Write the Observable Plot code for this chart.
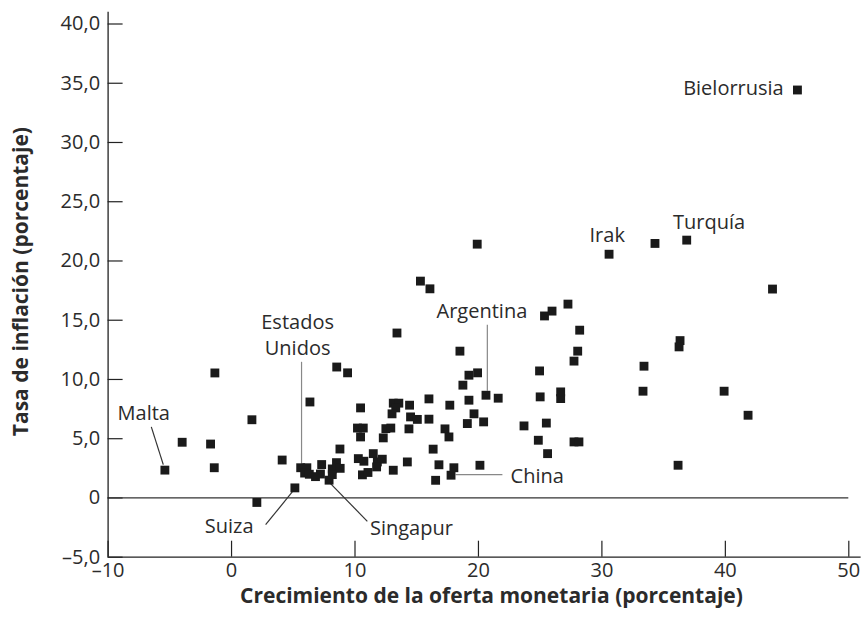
<!DOCTYPE html>
<html><head><meta charset="utf-8">
<script src="https://cdn.jsdelivr.net/npm/d3@7"></script>
<script src="https://cdn.jsdelivr.net/npm/@observablehq/plot@0.6"></script>
<style>body{margin:0;background:#fff} #chart svg{display:block}</style>
</head><body><div id="chart"></div><script>
// Money supply growth (x, %) and inflation (y, %) per country
const growth = [-5.4,-4.0,-1.7,-1.4,-1.35,1.65,2.05,4.1,5.13,5.6,6.1,5.92,6.3,6.8,7.3,7.2,7.9,8.16,8.5,8.8,8.16,6.35,8.52,9.4,8.78,10.45,10.2,10.67,10.45,10.27,10.72,11.48,11.81,12.21,10.6,11.05,11.75,13.1,14.24,12.5,12.9,12.29,13.1,13.55,13.3,13.0,13.4,14.42,14.5,15.05,14.37,15.99,15.99,16.33,16.8,16.53,17.78,18.01,17.68,17.29,17.61,15.3,16.07,18.5,19.23,19.93,18.74,19.23,20.61,21.6,19.64,19.1,20.42,20.12,19.9,23.69,24.95,25.0,25.5,24.85,25.6,25.35,25.96,27.25,28.2,28.04,27.74,26.66,26.66,27.74,28.14,30.58,33.41,33.33,34.3,36.87,36.33,36.25,36.17,39.9,41.84,43.82,45.84];
const inflation = [2.35,4.7,4.55,2.55,10.55,6.6,-0.38,3.2,0.85,2.55,2.55,2.1,2.0,1.8,2.82,2.02,1.5,2.45,2.98,2.5,1.97,8.1,11.05,10.56,4.13,7.6,5.9,5.9,5.15,3.32,3.1,3.74,3.04,3.27,1.95,2.15,2.62,2.34,3.04,5.85,5.9,5.07,8.0,8.0,7.6,7.1,13.92,7.83,6.84,6.63,5.83,8.36,6.65,4.12,2.8,1.49,1.92,2.55,7.83,5.83,5.15,18.3,17.65,12.39,10.36,10.56,9.52,8.25,8.67,8.42,7.1,6.28,6.42,2.76,21.42,6.08,10.72,8.53,6.32,4.87,3.74,15.36,15.77,16.36,14.16,12.39,11.55,8.95,8.39,4.73,4.73,20.57,11.12,9.01,21.48,21.76,13.28,12.75,2.76,9.01,6.98,17.63,34.43];

// Tick values
const xTicks = [-10, 0, 10, 20, 30, 40, 50];
const yTicks = [-5, 0, 5, 10, 15, 20, 25, 30, 35, 40];

// Country annotations (label positions in data units)
const labelText = ["Malta", "Estados\nUnidos", "Argentina", "China", "Suiza", "Singapur", "Irak", "Turquía", "Bielorrusia"];
const labelX = [-7.11, 5.35, 20.28, 22.6, 1.78, 11.21, 30.43, 38.68, 44.73];
const labelY = [7.26, 13.85, 15.88, 1.97, -2.28, -2.45, 22.32, 23.4, 34.71];
const labelAnchor = ["middle", "middle", "middle", "start", "end", "start", "middle", "middle", "end"];

// Leader lines
const leaderX1 = [-6.5, 5.67, 20.72, 18.15, 2.76, 8.02];
const leaderY1 = [6.0, 11.49, 14.61, 1.97, -2.26, 1.21];
const leaderX2 = [-5.53, 5.67, 20.72, 21.94, 4.92, 11.0];
const leaderY2 = [2.81, 2.79, 9.04, 1.97, 0.51, -1.97];
const leaderColor = ["#333", "#888", "#888", "#888", "#333", "#333"];

const points = growth.map((g, i) => ({x: g, y: inflation[i]}));
const labels = labelText.map((t, i) => ({t, x: labelX[i], y: labelY[i], a: labelAnchor[i]}));
const leaders = leaderX1.map((v, i) => ({x1: v, y1: leaderY1[i], x2: leaderX2[i], y2: leaderY2[i], c: leaderColor[i]}));

const W = 863, H = 619;
const mL = 107.6, mR = 14.7, mT = 23.5, mB = 62.3;
const plotW = W - mL - mR, plotH = H - mT - mB;
const font = "'Open Sans', sans-serif";
const ink = "#2b2b2b";
const yFmt = d => d === 0 ? "0" : d.toFixed(1).replace(".", ",").replace("-", "\u2013");
const xFmt = d => String(d).replace("-", "\u2013");

const labelMarks = ["start", "middle", "end"].map(a =>
  Plot.text(labels.filter(d => d.a === a), {x: "x", y: "y", text: "t", textAnchor: a, fontSize: 20, fill: ink, lineHeight: 1.3})
);

const chart = Plot.plot({
  width: W, height: H,
  marginLeft: mL, marginRight: mR, marginTop: mT, marginBottom: mB,
  style: {fontFamily: font, fontSize: "20px", color: ink, background: "#fff"},
  x: {domain: [-10, 50]},
  y: {domain: [-5, 40]},
  marks: [
    Plot.axisY({ticks: yTicks, tickSize: 0, tickPadding: 8, tickFormat: yFmt, label: null, fontSize: 20, fill: ink}),
    Plot.axisX({ticks: xTicks, tickSize: 0, tickPadding: 6, tickFormat: xFmt, label: null, fontSize: 20, fill: ink}),
    Plot.tickY(yTicks, {y: d => d, insetRight: plotW - 15, stroke: "#222", strokeWidth: 1.2}),
    Plot.tickX(xTicks, {x: d => d, insetTop: plotH - 16, stroke: "#222", strokeWidth: 1.2}),
    Plot.ruleY([0], {stroke: "#333", strokeWidth: 1.2}),
    Plot.ruleX([-10], {y1: -5, y2: 41, stroke: "#222", strokeWidth: 1.3}),
    Plot.ruleY([-5], {x1: -10, x2: 51, stroke: "#222", strokeWidth: 1.3}),
    Plot.link(leaders, {x1: "x1", y1: "y1", x2: "x2", y2: "y2", stroke: "c", strokeWidth: 1.2}),
    Plot.dot(points, {x: "x", y: "y", symbol: "square", r: 5, fill: "#1a1a1a", stroke: "none"}),
    ...labelMarks,
    Plot.text(["Crecimiento de la oferta monetaria (porcentaje)"], {frameAnchor: "bottom", dy: 46, dx: 13, fontWeight: "bold", fontSize: 21, fill: ink}),
    Plot.text(["Tasa de inflación (porcentaje)"], {frameAnchor: "left", textAnchor: "middle", rotate: -90, dx: -87, dy: -9, fontWeight: "bold", fontSize: 21, fill: ink})
  ]
});
document.getElementById("chart").append(chart);
</script></body></html>
